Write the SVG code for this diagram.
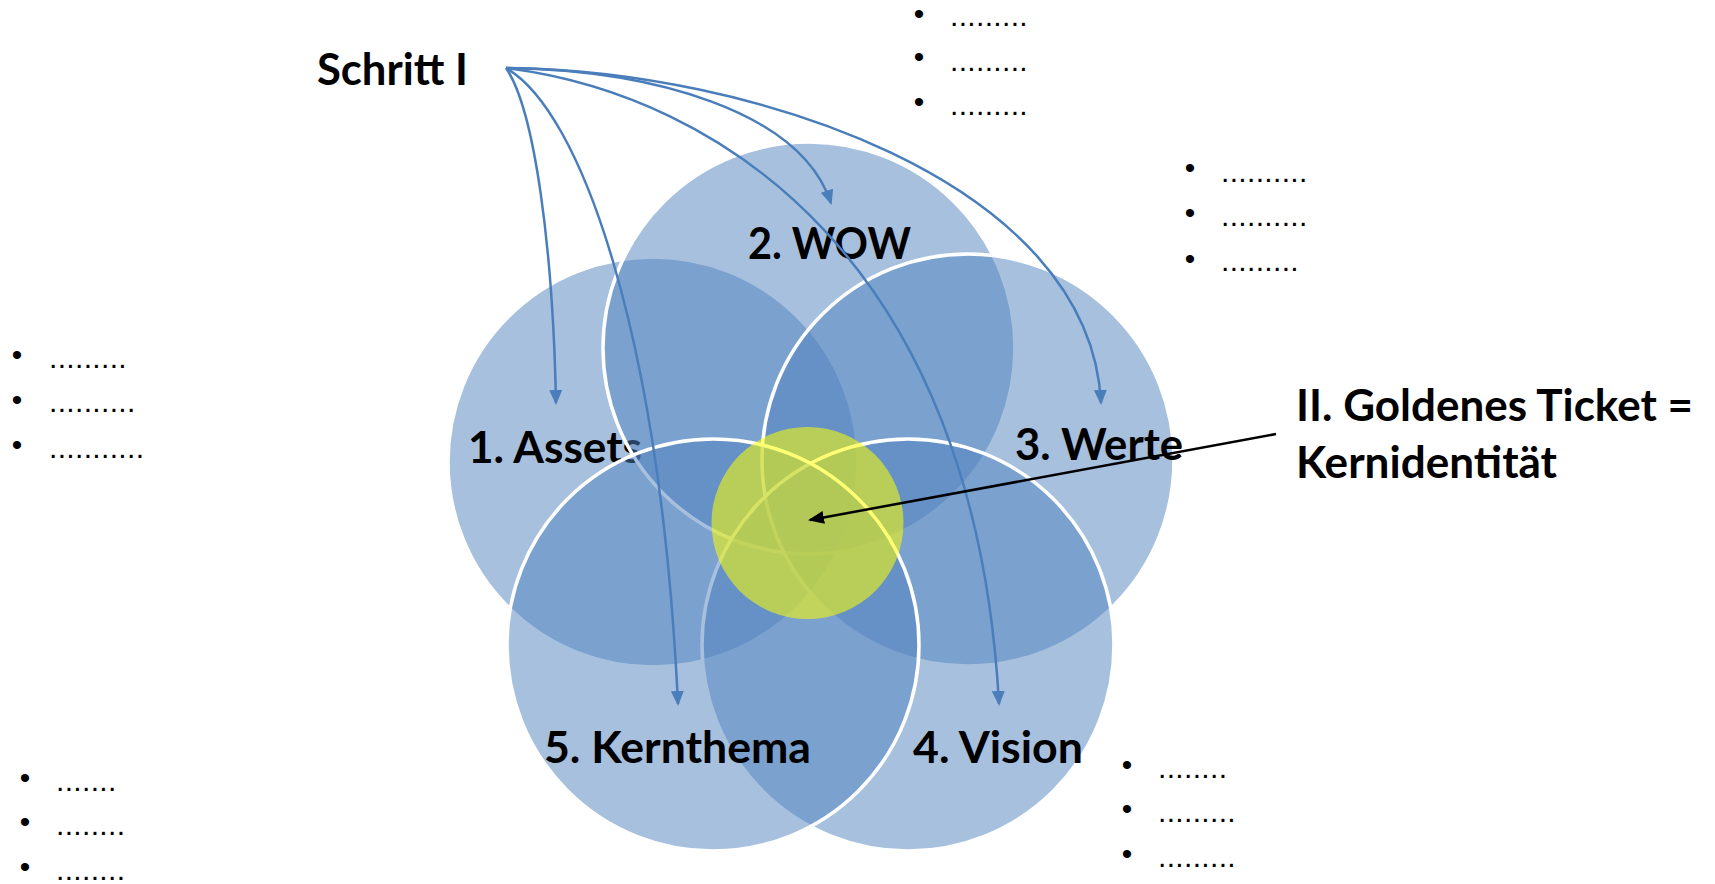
<svg xmlns="http://www.w3.org/2000/svg" width="1715" height="884" viewBox="0 0 1715 884">
  <style>
    .circ { fill: #4F81BD; fill-opacity: 0.5; stroke: #FFFFFF; stroke-width: 3.5; }
    .core { fill: #FFFF00; fill-opacity: 0.55; stroke: none; }
    .lbl { font-family: Lato, "Liberation Sans", sans-serif; font-weight: bold; font-size: 44px; fill: #000000; }
    .bul { font-family: "Liberation Sans", Arial, sans-serif; font-size: 30px; fill: #000000; }
    .dots { font-family: "Liberation Sans", Arial, sans-serif; font-size: 30px; fill: #000000; letter-spacing: 0.33px; }
    .conn { fill: none; stroke: #4A7EBB; stroke-width: 2.5; marker-end: url(#blueArrow); }
    .ptr { fill: none; stroke: #000000; stroke-width: 2.5; marker-end: url(#blackArrow); }
  </style>
  <defs>
    <marker id="blueArrow" viewBox="0 0 15 13" markerWidth="15" markerHeight="13" refX="13" refY="6.5" orient="auto" markerUnits="userSpaceOnUse">
      <path d="M0,0 L15,6.5 L0,13 Z" fill="#4A7EBB"/>
    </marker>
    <marker id="blackArrow" viewBox="0 0 16 13" markerWidth="16" markerHeight="13" refX="14" refY="6.5" orient="auto" markerUnits="userSpaceOnUse">
      <path d="M0,0 L16,6.5 L0,13 Z" fill="#000000"/>
    </marker>
  </defs>
  <rect width="1715" height="884" fill="#FFFFFF"/>

  <g id="node-assets">
    <circle class="circ" cx="653" cy="462" r="205"/>
    <text class="lbl" x="468" y="463" textLength="174" lengthAdjust="spacingAndGlyphs">1. Assets</text>
  </g>
  <g id="node-wow">
    <circle class="circ" cx="809" cy="348" r="206"/>
    <text class="lbl" x="748" y="259" textLength="163" lengthAdjust="spacingAndGlyphs">2. WOW</text>
  </g>
  <g id="node-werte">
    <circle class="circ" cx="968" cy="460" r="206"/>
    <text class="lbl" x="1015" y="460" textLength="168" lengthAdjust="spacingAndGlyphs">3. Werte</text>
  </g>
  <g id="node-vision">
    <circle class="circ" cx="908" cy="645" r="206"/>
    <text class="lbl" x="913" y="763" textLength="170" lengthAdjust="spacingAndGlyphs">4. Vision</text>
  </g>
  <g id="node-kernthema">
    <circle class="circ" cx="713" cy="645" r="206"/>
    <text class="lbl" x="544" y="763" textLength="267" lengthAdjust="spacingAndGlyphs">5. Kernthema</text>
  </g>
  <g id="node-core">
    <circle class="core" cx="807.5" cy="523" r="96"/>
  </g>

  <g id="node-schritt">
    <text class="lbl" x="317" y="85" textLength="151" lengthAdjust="spacingAndGlyphs">Schritt I</text>
  </g>
  <g id="node-ticket">
    <text class="lbl" x="1296" y="421" textLength="397" lengthAdjust="spacingAndGlyphs">II. Goldenes Ticket =</text>
    <text class="lbl" x="1296" y="478" textLength="261" lengthAdjust="spacingAndGlyphs">Kernidentität</text>
  </g>

  <g id="connectors">
    <path class="conn" d="M506,68 C535,110 553,250 556,403"/>
    <path class="conn" d="M506,68 C580,110 660,330 678,704"/>
    <path class="conn" d="M506,68 C650,70 800,110 831,203"/>
    <path class="conn" d="M506,68 C720,95 975,260 999,704"/>
    <path class="conn" d="M506,68 C750,70 1090,180 1101,403"/>
    <line class="ptr" x1="1276" y1="434" x2="810" y2="520"/>
  </g>

  <g id="list-top">
    <text class="bul" x="919" y="24" text-anchor="middle">•</text>
    <text class="dots" x="950" y="26">.........</text>
    <text class="bul" x="919" y="67" text-anchor="middle">•</text>
    <text class="dots" x="950" y="71">.........</text>
    <text class="bul" x="919" y="112" text-anchor="middle">•</text>
    <text class="dots" x="950" y="115">.........</text>
  </g>
  <g id="list-right-top">
    <text class="bul" x="1190" y="178" text-anchor="middle">•</text>
    <text class="dots" x="1221" y="182">..........</text>
    <text class="bul" x="1190" y="223" text-anchor="middle">•</text>
    <text class="dots" x="1221" y="226">..........</text>
    <text class="bul" x="1190" y="269" text-anchor="middle">•</text>
    <text class="dots" x="1221" y="271">.........</text>
  </g>
  <g id="list-left-top">
    <text class="bul" x="17" y="365" text-anchor="middle">•</text>
    <text class="dots" x="49" y="368">.........</text>
    <text class="bul" x="17" y="410" text-anchor="middle">•</text>
    <text class="dots" x="49" y="412">..........</text>
    <text class="bul" x="17" y="455" text-anchor="middle">•</text>
    <text class="dots" x="49" y="458">...........</text>
  </g>
  <g id="list-left-bottom">
    <text class="bul" x="25" y="788" text-anchor="middle">•</text>
    <text class="dots" x="56" y="791">.......</text>
    <text class="bul" x="25" y="832" text-anchor="middle">•</text>
    <text class="dots" x="56" y="835">........</text>
    <text class="bul" x="25" y="877" text-anchor="middle">•</text>
    <text class="dots" x="56" y="880">........</text>
  </g>
  <g id="list-right-bottom">
    <text class="bul" x="1127" y="775" text-anchor="middle">•</text>
    <text class="dots" x="1158" y="778">........</text>
    <text class="bul" x="1127" y="819" text-anchor="middle">•</text>
    <text class="dots" x="1158" y="822">.........</text>
    <text class="bul" x="1127" y="864" text-anchor="middle">•</text>
    <text class="dots" x="1158" y="867">.........</text>
  </g>
</svg>
